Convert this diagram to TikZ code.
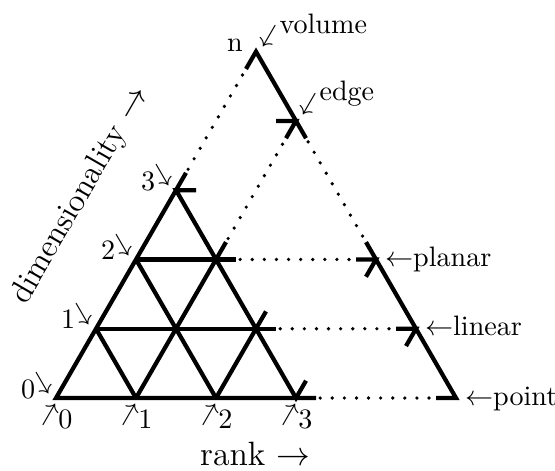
\documentclass[tikz,border=0pt]{standalone}
\usepackage{amsmath,amssymb}
\usepackage{graphicx}
\usepackage{tikz}
\newcommand{\flecha}[2]{\raisebox{#2}{\rotatebox[origin=c]{#1}{$\rightarrow$}}}

\begin{document}
\begin{tikzpicture}[
  x={(1cm,0cm)}, y={(0.5cm,0.866cm)},
  solido/.style={line width=1.5pt},
  punteado/.style={line width=1.3pt, line cap=round, dash pattern=on 0pt off 4.3pt},
  eti/.style={inner sep=0pt}
]
  \useasboundingbox (-0.7cm,-0.9cm) rectangle (6.2375cm,4.975cm);
  % red: rango i, dimension j
  \coordinate (a0) at (0,0);
  \coordinate (a1) at (1,0);
  \coordinate (a2) at (2,0);
  \coordinate (a3) at (3,0);
  \coordinate (b0) at (0,1);
  \coordinate (b1) at (1,1);
  \coordinate (b2) at (2,1);
  \coordinate (c0) at (0,2);
  \coordinate (c1) at (1,2);
  \coordinate (d0) at (0,3);
  % triangulo grande
  \coordinate (n) at (0,5);
  \coordinate (e) at (1,4);
  \coordinate (p) at (3,2);
  \coordinate (l) at (4,1);
  \coordinate (q) at (5,0);

  \draw[punteado] (d0) -- (n);
  \draw[punteado] (c1) -- (e);
  \draw[punteado] (e) -- (p);
  \draw[punteado] (c1) -- (p);
  \draw[punteado] (b2) -- (l);
  \draw[punteado] (a3) -- (q);

  \draw[solido] (a3) ++(.25,0) -- (a0) -- (d0) -- ++(0,.25);
  \draw[solido] (a3) ++(0,.25) -- (a3) -- (d0) -- ++(.25,0);
  \draw[solido] (b0) -- (b2) -- ++(.25,0);
  \draw[solido] (c0) -- (c1) -- ++(.25,0);
  \draw[solido] (a1) -- (c1) -- ++(0,.25);
  \draw[solido] (a2) -- (b2) -- ++(0,.25);
  \draw[solido] (a2) -- (c0);
  \draw[solido] (a1) -- (b0);

  \draw[solido] (n) ++(0,-.25) -- (n) -- (e) -- ++(.25,-.25);
  \draw[solido] (e) ++(-.25,0) -- (e) -- ++(0,-.25);
  \draw[solido] (p) ++(-.25,.25) -- (p) -- (q) -- ++(-.25,0);
  \draw[solido] (p) ++(-.25,0) -- (p) -- ++(0,-.25);
  \draw[solido] (l) ++(-.25,0) -- (l) -- ++(0,-.25);

  % etiquetas
  \node[eti, anchor=base east] (d0t) at ([xshift=-1pt]a0) {0\kern-2pt\flecha{-60}{3pt}};
  \node[eti, anchor=base east] (d1t) at ([xshift=-1pt]b0) {1\kern-2pt\flecha{-60}{3pt}};
  \node[eti, anchor=base east] (d2t) at ([xshift=-1pt]c0) {2\kern-2pt\flecha{-60}{3pt}};
  \node[eti, anchor=base east] (d3t) at ([xshift=-1pt]d0) {3\kern-2pt\flecha{-60}{3pt}};
  \node[eti, anchor=base] (r0t) at ([yshift=-11pt]a0) {\flecha{60}{3pt}\kern-1.5pt0};
  \node[eti, anchor=base] (r1t) at ([yshift=-11pt]a1) {\flecha{60}{3pt}\kern-1.5pt1};
  \node[eti, anchor=base] (r2t) at ([yshift=-11pt]a2) {\flecha{60}{3pt}\kern-1.5pt2};
  \node[eti, anchor=base] (r3t) at ([yshift=-11pt]a3) {\flecha{60}{3pt}\kern-1.5pt3};
  \node[eti, anchor=base east] (nt) at ([xshift=-4.5pt]n) {n};
  \node[eti, anchor=base west] (vol) at ([yshift=6.6pt]n) {\flecha{240}{-2.5pt}volume};
  \node[eti, anchor=base west] (edg) at ([yshift=7.1pt]e) {\flecha{240}{-2.5pt}edge};
  \node[eti, anchor=base west] (pla) at ([xshift=3pt,yshift=-2.5pt]p) {$\leftarrow$planar};
  \node[eti, anchor=base west] (lin) at ([xshift=3pt,yshift=-2.5pt]l) {$\leftarrow$linear};
  \node[eti, anchor=base west] (pnt) at ([xshift=3pt,yshift=-2.5pt]q) {$\leftarrow$point};
  \node[eti, anchor=base, font=\large] (rank) at (2.49cm,-0.84cm) {rank $\rightarrow$};
  \node[eti, rotate=60, font=\fontsize{11.5}{14}\selectfont] (dim) at (0.31cm,2.53cm) {dimensionality $\rightarrow$};
\end{tikzpicture}
\end{document}
